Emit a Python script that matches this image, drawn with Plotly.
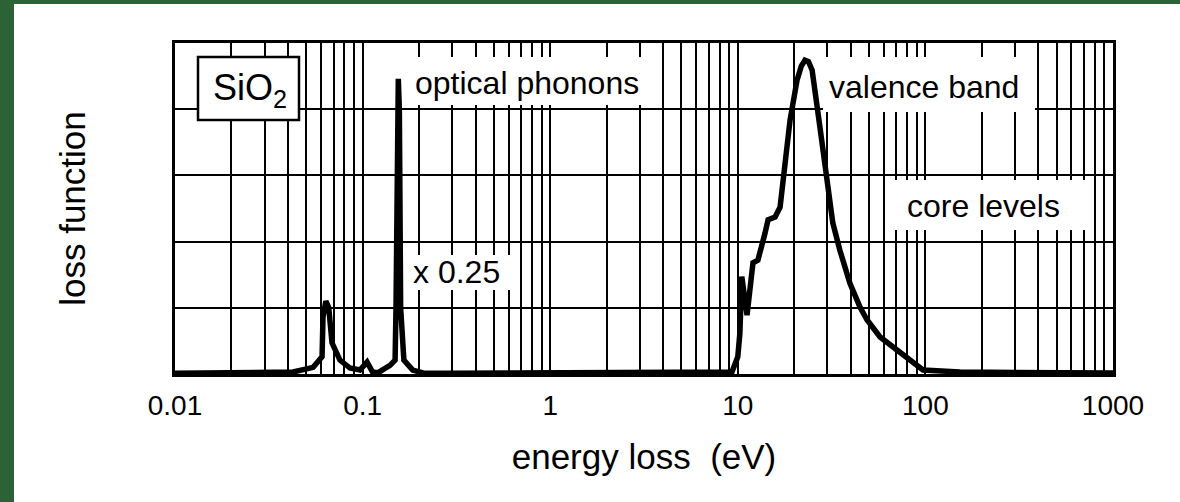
import plotly.graph_objects as go

# ---------------- data ----------------
phonon_energy = [0.010, 0.015, 0.020, 0.030, 0.0426, 0.0545, 0.0608, 0.0615, 0.0637,
                 0.0660, 0.0687, 0.0757, 0.0856, 0.0968, 0.1056, 0.113, 0.121, 0.140,
                 0.149, 0.1507, 0.153, 0.155, 0.157, 0.1595, 0.166, 0.185, 0.21, 0.30]
phonon_loss = [0.01, 0.01, 0.012, 0.02, 0.03, 0.10, 0.26, 0.86, 1.10,
               1.00, 0.47, 0.21, 0.09, 0.06, 0.18, 0.03, 0.02, 0.13,
               0.21, 1.00, 3.50, 4.46, 4.00, 1.00, 0.21, 0.06, 0.015, 0.01]

valence_energy = [0.30, 1.0, 5.0, 9.31, 10.0, 10.26, 10.5, 11.2, 12.05, 12.8, 13.97,
                  14.5, 15.8, 16.8, 19.0, 20.7, 21.8, 22.8, 23.8, 24.9, 27.4, 29.9,
                  32.1, 35.0, 39.6, 44.8, 48.8, 57.3, 73.2, 85.9, 97.1, 153.0, 400.0,
                  1000.0]
valence_loss = [0.01, 0.01, 0.015, 0.03, 0.26, 0.62, 1.47, 0.89, 1.68, 1.72, 2.13,
                2.33, 2.37, 2.52, 3.84, 4.44, 4.65, 4.74, 4.72, 4.59, 3.73, 2.88,
                2.28, 1.87, 1.37, 1.01, 0.82, 0.56, 0.32, 0.17, 0.06, 0.03, 0.015,
                0.015]

tick_values = [0.01, 0.1, 1, 10, 100, 1000]
tick_labels = ["0.01", "0.1", "1", "10", "100", "1000"]
minor_values = [m * 10.0 ** k for k in range(-2, 3) for m in range(2, 10)]

# ---------------- geometry ----------------
W, H = 1180, 502
L, R, T, B = 175, 1113, 43, 374


def px(xp):
    return (xp - L) / (R - L)


def py(yp):
    return (B - yp) / (B - T)


FONT = "Liberation Sans, Arial, Helvetica, sans-serif"

fig = go.Figure()
fig.add_trace(go.Scatter(x=phonon_energy, y=phonon_loss, mode="lines",
                         line=dict(color="black", width=5.5), showlegend=False,
                         hoverinfo="skip"))
fig.add_trace(go.Scatter(x=valence_energy, y=valence_loss, mode="lines",
                         line=dict(color="black", width=5.5), showlegend=False,
                         hoverinfo="skip"))

shapes = [
    # white page over green background
    dict(type="rect", xref="paper", yref="paper", x0=px(14), x1=px(1185),
         y0=py(4), y1=py(510), fillcolor="white", line=dict(width=0), layer="below"),
]
# white label backgrounds (x0, x1, y0, y1 in pixels)
for (a, b, c, d) in [(405, 655, 57, 105), (823, 1035, 57, 112),
                     (887, 1087, 180, 230), (405, 510, 255, 290)]:
    shapes.append(dict(type="rect", xref="paper", yref="paper", x0=px(a), x1=px(b),
                       y0=py(d), y1=py(c), fillcolor="white",
                       line=dict(width=0), layer="above"))
shapes.append(dict(type="rect", xref="paper", yref="paper", x0=px(198), x1=px(299),
                   y0=py(120), y1=py(57), fillcolor="white",
                   line=dict(color="black", width=2.5), layer="above"))

annotations = []
for text, cx, cy, size in [("optical phonons", 526.5, 83, 32),
                           ("valence band", 924, 87, 32),
                           ("core levels", 983.5, 206, 32),
                           ("x 0.25", 456.5, 272, 32),
                           ("SiO<sub>2</sub>", 250, 90, 36)]:
    annotations.append(dict(text=text, xref="paper", yref="paper", x=px(cx), y=py(cy),
                            xanchor="center", yanchor="middle", showarrow=False,
                            font=dict(family=FONT, size=size, color="black")))

fig.update_layout(
    width=W, height=H,
    margin=dict(l=L, r=W - R, t=T, b=H - B, pad=0),
    paper_bgcolor="#2b6236",
    plot_bgcolor="white",
    shapes=shapes,
    annotations=annotations,
    xaxis=dict(type="log", range=[-2, 3], tickvals=tick_values, ticktext=tick_labels,
               showgrid=True, gridcolor="black", gridwidth=1.8, ticks="",
               showline=True, mirror=True, linecolor="black", linewidth=2.5,
               zeroline=False, ticklabelstandoff=5, automargin=False,
               tickfont=dict(family=FONT, size=28, color="black"),
               title=dict(text="energy loss  (eV)", standoff=25,
                          font=dict(family=FONT, size=35, color="black")),
               minor=dict(tickvals=minor_values, showgrid=True, gridcolor="black",
                          gridwidth=1.8, ticks="")),
    yaxis=dict(range=[0, 5], dtick=1, showgrid=True, gridcolor="black", gridwidth=1.8,
               showticklabels=False, ticks="", zeroline=False, automargin=False,
               showline=True, mirror=True, linecolor="black", linewidth=2.5,
               title=dict(text="loss function", standoff=77,
                          font=dict(family=FONT, size=35, color="black"))),
)

fig.write_html("out.html")
